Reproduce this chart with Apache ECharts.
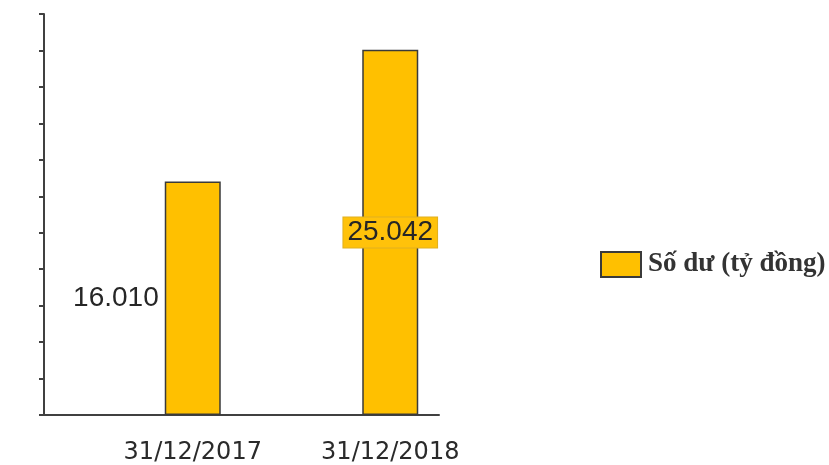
<!DOCTYPE html>
<html>
<head>
<meta charset="utf-8">
<script src="https://cdn.jsdelivr.net/npm/echarts@6/dist/echarts.min.js"></script>
<style>
  html, body { margin: 0; padding: 0; background: #ffffff; }
  #chart { width: 829px; height: 465px; }
</style>
</head>
<body>
<div id="chart"></div>
<script>
// Balances at year end
const categories = ['31/12/2017', '31/12/2018'];
const balances = [16010, 25042];
const seriesName = 'Số dư (tỷ đồng)';
const axisMax = 27500;
const axisStep = 2500;

const fmt = v => String(v).replace(/\B(?=(\d{3})+(?!\d))/g, '.');

const chart = echarts.init(document.getElementById('chart'), null, { renderer: 'canvas' });

const option = {
  backgroundColor: '#ffffff',
  animation: false,
  legend: {
    data: [seriesName],
    left: 595,
    top: 246,
    orient: 'vertical',
    itemWidth: 40,
    itemHeight: 25,
    itemGap: 8,
    icon: 'rect',
    textStyle: {
      fontFamily: 'Liberation Serif', fontSize: 27, fontWeight: 'bold',
      color: '#333', padding: [0, 0, 0, 2]
    }
  },
  grid: [
    // frame: y axis with ticks and baseline
    { left: 44, top: 14, width: 395, height: 401 },
    // bars and category labels
    { left: 94, top: 14, width: 395, height: 401 }
  ],
  xAxis: [
    {
      gridIndex: 0, type: 'category', data: categories,
      axisLine: { show: true, lineStyle: { color: '#404040', width: 2 } },
      axisTick: { show: false }, axisLabel: { show: false }
    },
    {
      gridIndex: 1, type: 'category', data: categories,
      axisLine: { show: false }, axisTick: { show: false },
      axisLabel: {
        margin: 26, fontFamily: 'DejaVu Sans', fontSize: 24, color: '#2a2a2a'
      }
    }
  ],
  yAxis: [
    {
      gridIndex: 0, type: 'value', min: 0, max: axisMax, interval: axisStep,
      axisLine: { show: true, lineStyle: { color: '#404040', width: 2 } },
      axisTick: { show: true, length: 5, lineStyle: { color: '#404040', width: 2 } },
      axisLabel: { show: false }, splitLine: { show: false }
    },
    {
      gridIndex: 1, type: 'value', min: 0, max: axisMax, interval: axisStep,
      show: false, splitLine: { show: false }
    }
  ],
  series: [
    {
      name: seriesName,
      type: 'bar',
      xAxisIndex: 1,
      yAxisIndex: 1,
      barWidth: 56,
      itemStyle: { color: '#FFC000', borderColor: '#3a3a3a', borderWidth: 1.5 },
      data: balances.map((v, i) => ({
        value: v,
        label: i === 0
          ? {
              show: true, position: 'left', distance: 6,
              formatter: p => fmt(p.value),
              fontFamily: 'Liberation Sans', fontSize: 28, color: '#262626'
            }
          : {
              show: true, position: 'inside',
              formatter: p => fmt(p.value),
              fontFamily: 'Liberation Sans', fontSize: 28, color: '#262626',
              backgroundColor: '#FFC20A', borderColor: '#e0b020', borderWidth: 1,
              padding: [1, 4]
            }
      }))
    }
  ]
};

chart.setOption(option);
</script>
</body>
</html>
